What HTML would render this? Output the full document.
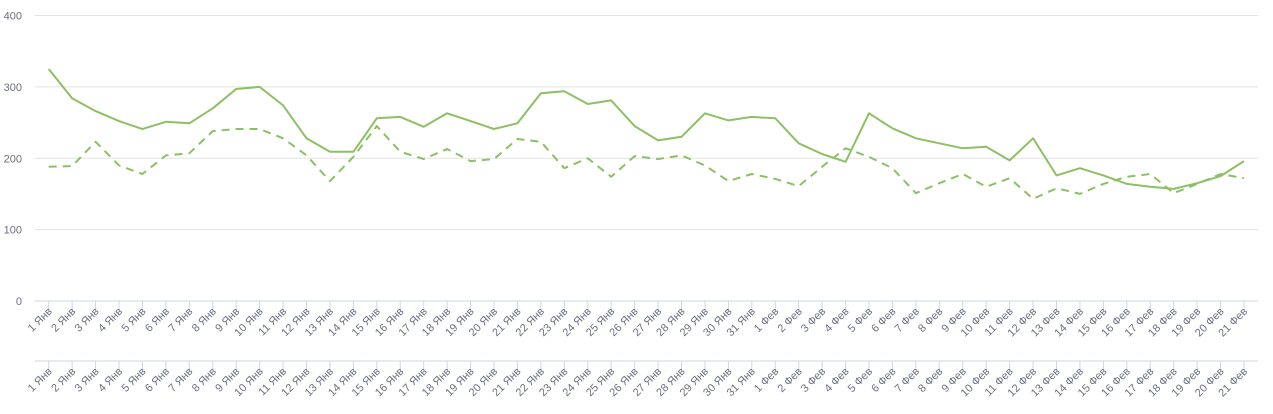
<!DOCTYPE html>
<html><head><meta charset="utf-8"><style>
body{margin:0;background:#fff;}
svg{display:block;font-family:"Liberation Sans","DejaVu Sans",sans-serif;}
</style></head><body>
<svg id="chart" width="1273" height="414"></svg>
<script>
const categories=[];
for(let i=1;i<=31;i++)categories.push(i+" Янв");
for(let i=1;i<=21;i++)categories.push(i+" Фев");
const seriesSolid=[325,284,266,252,241,251,249,270,297,300,274,228,209,209,256,258,244,263,252,241,249,291,294,276,281,245,225,230,263,253,258,256,221,206,195,263,242,228,221,214,216,197,228,176,186,176,164,160,157,165,175,196];
const seriesDashed=[188,189,223,190,178,204,207,238,241,241,228,204,168,202,245,209,199,213,196,199,227,223,186,200,174,203,199,204,190,168,178,171,161,188,214,202,186,151,165,178,160,172,143,158,150,164,174,178,151,164,178,172];
const yTicks=[0,100,200,300,400];
const svg=document.getElementById('chart');
const NS='http://www.w3.org/2000/svg';
const x0=48.7,x1=1244,yTop=15.5,yBot=301;
const xs=i=>x0+(x1-x0)*i/(categories.length-1);
const ys=v=>yBot-(yBot-yTop)*v/400;
function mk(t,a){const e=document.createElementNS(NS,t);for(const k in a)e.setAttribute(k,a[k]);svg.appendChild(e);return e;}
yTicks.forEach(v=>{
  if(v>0){const g=mk('line',{x1:35,x2:1258,y1:ys(v),y2:ys(v),stroke:'#e3e3e3','stroke-width':1});
  
  }
  const t=mk('text',{x:22,y:ys(v)+4,'text-anchor':'end','font-size':11,fill:'#6b7080'});
  t.textContent=v;
  
  
});
[301,361].forEach((ay,r)=>{
  const a=mk('line',{x1:35,x2:1258,y1:ay,y2:ay,stroke:'#ccd6eb','stroke-width':1});
  
  
  categories.forEach((c,i)=>{
    const x=xs(i);
    const tk=mk('line',{x1:x,x2:x,y1:ay,y2:ay+9,stroke:'#ccd6eb'});
    
    
    const t=mk('text',{x:x+4,y:ay+11,'text-anchor':'end','font-size':11,fill:'#6b7080',transform:`rotate(-45 ${x+4} ${ay+11})`});
    t.textContent=c;
    
    
  });
});
function line(data,name,dash){
  const p=mk('path',{d:data.map((v,i)=>(i?'L':'M')+xs(i).toFixed(1)+','+ys(v).toFixed(1)).join(''),fill:'none',stroke:'#8cc063','stroke-width':2,'stroke-linejoin':'round'});
  if(dash)p.setAttribute('stroke-dasharray','8,6');
  
  
}
line(seriesDashed,'series-dashed-line',true);
line(seriesSolid,'series-solid-line',false);
</script>
</body></html>
